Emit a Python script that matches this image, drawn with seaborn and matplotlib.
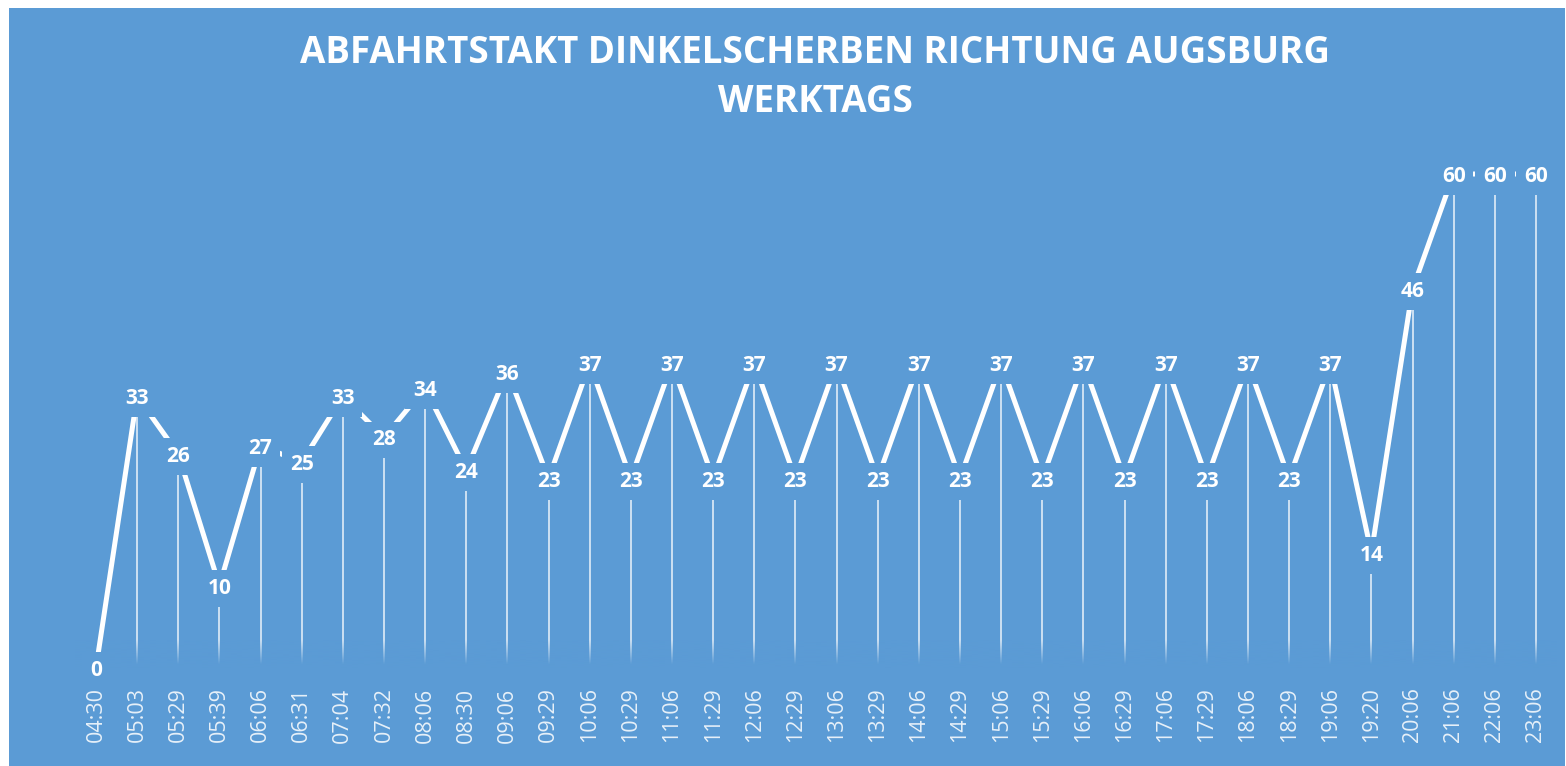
import numpy as np
import pandas as pd
import matplotlib
matplotlib.use("Agg")
import matplotlib.pyplot as plt
from matplotlib.patches import Rectangle
import seaborn as sns

# Abfahrtszeiten und Takt (Minuten bis zur naechsten Abfahrt)
times = ["04:30", "05:03", "05:29", "05:39", "06:06", "06:31", "07:04", "07:32",
         "08:06", "08:30", "09:06", "09:29", "10:06", "10:29", "11:06", "11:29",
         "12:06", "12:29", "13:06", "13:29", "14:06", "14:29", "15:06", "15:29",
         "16:06", "16:29", "17:06", "17:29", "18:06", "18:29", "19:06", "19:20",
         "20:06", "21:06", "22:06", "23:06"]
takt = [0, 33, 26, 10, 27, 25, 33, 28, 34, 24, 36, 23, 37, 23, 37, 23,
        37, 23, 37, 23, 37, 23, 37, 23, 37, 23, 37, 23, 37, 23, 37, 14,
        46, 60, 60, 60]
title_lines = ["ABFAHRTSTAKT DINKELSCHERBEN RICHTUNG AUGSBURG", "WERKTAGS"]

BG = "#5B9BD5"

df = pd.DataFrame({"pos": np.arange(len(times)), "zeit": times, "takt": takt})

sns.set_style("white")
plt.rcParams["font.family"] = ["Open Sans", "DejaVu Sans"]

fig = plt.figure(figsize=(15.66, 7.66), dpi=100)
fig.patch.set_facecolor("white")
fig.add_artist(Rectangle((9 / 1566, 0), 1556 / 1566, 758 / 766,
                         transform=fig.transFigure, facecolor=BG,
                         edgecolor="none", zorder=0))

ax = fig.add_axes([75.4 / 1566, 98 / 766, 1481.1 / 1566, 494 / 766])
ax.set_facecolor("none")

# drop lines
ax.vlines(df["pos"], 0, df["takt"], color="white", lw=1.3, alpha=0.75, zorder=1)

# fade drop lines towards the axis
fade = np.zeros((60, 1, 4))
fade[..., :3] = matplotlib.colors.to_rgb(BG)
fade[:, 0, 3] = np.clip(np.linspace(1.15, -0.4, 60), 0, 1)
ax.imshow(fade, extent=[-0.5, len(times) - 0.5, 0, 4.5], origin="lower",
          aspect="auto", zorder=2, interpolation="bilinear")
ax.set_xlim(-0.5, len(times) - 0.5)
ax.set_ylim(0, 60)

sns.lineplot(data=df, x="pos", y="takt", sort=False, color="white", lw=3.6,
             ax=ax, zorder=3, clip_on=False)

for p, v in zip(df["pos"], df["takt"]):
    ax.text(p, v, str(v), ha="center", va="center_baseline", color="white",
            fontsize=15, fontweight="bold", zorder=4, clip_on=False,
            bbox=dict(boxstyle="square,pad=0.38", facecolor=BG, edgecolor="none"))

ax.set_xticks(df["pos"])
ax.set_xticklabels(times, rotation=90, fontsize=15.5, color="white", alpha=0.85)
ax.tick_params(axis="x", length=0, pad=14)
ax.set_yticks([])
ax.set_xlabel("")
ax.set_ylabel("")
for s in ax.spines.values():
    s.set_visible(False)

fig.text(815 / 1566, 1 - 63 / 766, title_lines[0], ha="center", va="baseline",
         color="white", fontsize=26.5, fontweight="bold")
fig.text(815 / 1566, 1 - 112 / 766, title_lines[1], ha="center", va="baseline",
         color="white", fontsize=26.5, fontweight="bold")

fig.savefig("out.png", dpi=100, facecolor=fig.get_facecolor())
